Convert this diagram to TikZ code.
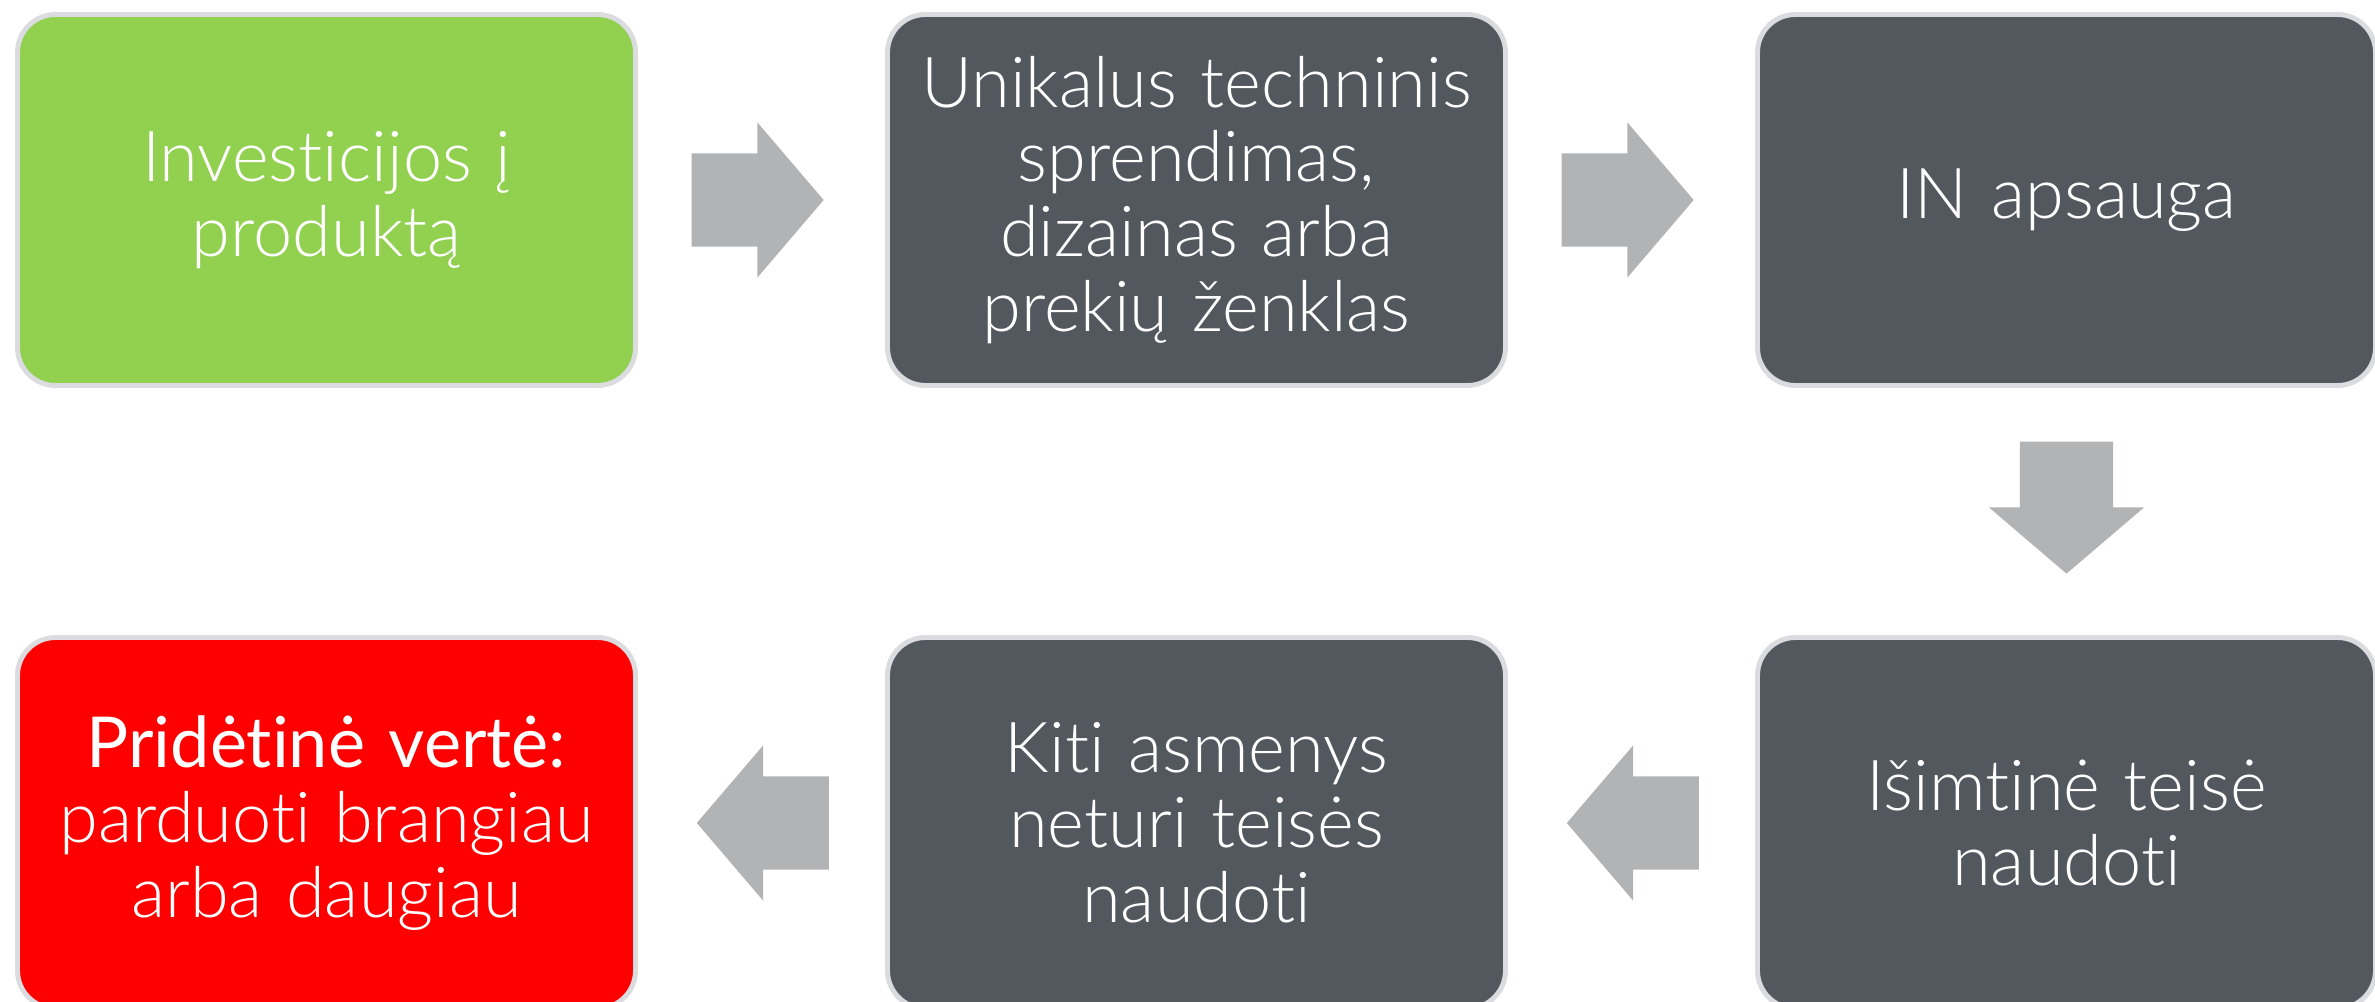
\documentclass[tikz,border=0pt]{standalone}
\usepackage{fontspec}
\setmainfont{Lato Light}[Ligatures={NoCommon,NoRare}, Contextuals=NoAlternate]
\newfontfamily\latoregular{Lato}[Ligatures={NoCommon,NoRare}, Contextuals=NoAlternate]
\usepackage{tikz}
\usetikzlibrary{positioning}
\usetikzlibrary{shapes.arrows,calc}
\definecolor{leafgreen}{HTML}{92D050}
\definecolor{slategrey}{HTML}{53575E}
\definecolor{alertred}{HTML}{FF0000}
\definecolor{boxrim}{HTML}{DADCDF}
\definecolor{arrowgrey}{HTML}{B2B3B5}
\tikzset{
	stepbox/.style={draw=boxrim, line width=1.4pt, rounded corners=0.38cm,
		minimum width=6.18cm, minimum height=3.71cm, text width=5.9cm,
		align=center, text=white, inner sep=0pt, outer sep=0pt,
		font=\fontsize{20}{21.3}\selectfont},
	flowarrow/.style={single arrow, fill=arrowgrey, draw=none, anchor=tail,
		inner xsep=0pt, inner ysep=0.46cm,
		minimum height=1.32cm, minimum width=1.54cm,
		single arrow head extend=0.31cm, single arrow tip angle=99},
	downarrow/.style={flowarrow, shape border rotate=270,
		inner xsep=0.46cm, inner ysep=0pt},
}

\begin{document}
\begin{tikzpicture}
	\useasboundingbox (0,0) rectangle (23.75,-10.02);
	\node[stepbox, fill=leafgreen] (b1) at (3.265,-2.0) {Investicijos į\\produktą};
	\node[stepbox, fill=slategrey, right =2.52cm  of b1] (b2) {Unikalus techninis\\sprendimas,\\dizainas arba\\prekių ženklas};
	\node[stepbox, fill=slategrey, right =2.52cm  of b2] (b3) {IN apsauga};
	\node[stepbox, fill=slategrey, below =2.52cm  of b3] (b4) {Išimtinė teisė\\naudoti};
	\node[stepbox, fill=slategrey, left =2.52cm  of b4] (b5) {Kiti asmenys\\neturi teisės\\naudoti};
	\node[stepbox, fill=alertred, left =2.52cm  of b5] (b6) {{\latoregular Pridėtinė vertė:}\\parduoti brangiau\\arba daugiau};
	%%%%%%%%%%
	\node[flowarrow] (a1) at ($(b1.east)!0.22!(b2.west)$) {};
	\node[flowarrow] (a2) at ($(b2.east)!0.22!(b3.west)$) {};
	\node[downarrow] (a3) at ($(b3.south)!0.22!(b4.north)$) {};
	\node[flowarrow, shape border rotate=180] (a4) at ($(b4.west)!0.23!(b5.east)$) {};
	\node[flowarrow, shape border rotate=180] (a5) at ($(b5.west)!0.23!(b6.east)$) {};
\end{tikzpicture}
\end{document}
